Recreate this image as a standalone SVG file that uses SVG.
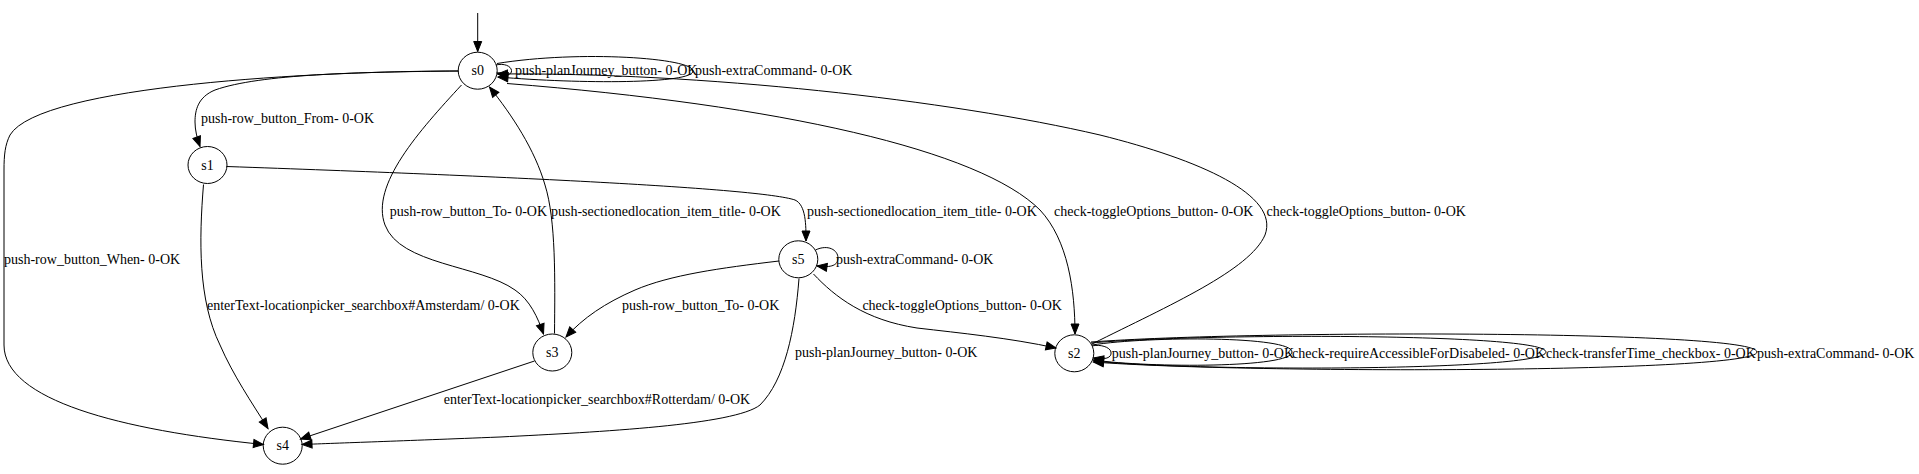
<svg xmlns="http://www.w3.org/2000/svg" width="1919" height="474" viewBox="0 0 1919 474">
<style>
.n ellipse{fill:none;stroke:#000;stroke-width:1}
text{font-family:"Liberation Serif","Times New Roman",serif;font-size:14px;fill:#000}
.n text{text-anchor:middle}
.e path{fill:none;stroke:#000;stroke-width:1;marker-end:url(#ah)}
</style>
<defs>
<marker id="ah" markerUnits="userSpaceOnUse" markerWidth="12" markerHeight="10" refX="10" refY="4" orient="auto" overflow="visible">
<path d="M0,0 L10,4 L0,8 z" fill="#000" stroke="#000" stroke-width="1"/>
</marker>
</defs>
<rect width="1919" height="474" fill="#fff"/>
<g id="edges" class="e">
<path d="M477.7,13 L477.7,51.5"/>
<path d="M496,65 C504,63 511,66 511.5,70.5 C512,75 506,76 497.5,73"/>
<path d="M497,63.5 C580,50 693,58 693,71 C693,84 580,84 498,77"/>
<path d="M458.5,71 C360,72 260,74 215,90 C198,97 195,110 195,122 C195,130 197,138 200,146.5"/>
<path d="M458.5,71 C320,71 40,85 10,135 C5,145 4,155 4,170 L4,345 C4,400 120,430 263.5,444.5"/>
<path d="M461.5,85 C420,130 370,185 385,225 C400,265 480,265 515,290 C530,300 538,318 543.5,334"/>
<path d="M554.5,333.5 C555,280 556,220 545,185 C535,150 512,115 489.5,87"/>
<path d="M203.5,184.5 C199,240 198,300 220,345 C233,375 252,403 268,428.5"/>
<path d="M226.5,166.5 C500,176 760,188 795,200 C806,205 806,225 806,241"/>
<path d="M507,83.5 C780,105 980,150 1040,210 C1068,240 1075,290 1075,334"/>
<path d="M1092,344 C1170,305 1250,270 1265,235 C1280,195 1200,160 1100,135 C950,100 700,72 497.5,74"/>
<path d="M815.5,250 C828,244 838,250 838,258 C838,265 832,268 817,266"/>
<path d="M779,261 C720,268 670,275 635,290 C605,303 583,318 566,337"/>
<path d="M799,278.5 C795,330 785,380 760,405 C735,425 600,432 500,437 C400,441 340,443 302,444.5"/>
<path d="M813.5,274 C835,297 865,320 917,328 C960,333 1010,338 1056,348"/>
<path d="M534.5,361 L300.5,439"/>
<path d="M1092,346 C1100,344 1110,347 1111,352 C1112,358 1105,360 1093.5,358"/>
<path d="M1092,345 C1150,336 1292,336 1292,352 C1292,368 1150,368 1093.5,360"/>
<path d="M1091,343 C1200,333 1546,333 1546,352 C1546,371 1200,372 1093.5,361"/>
<path d="M1091,342 C1250,330 1757,330 1757,352 C1757,373 1250,374 1093.5,362"/>
</g>
<g id="labels">
<text x="515" y="75.2">push-planJourney_button- 0-OK</text>
<text x="695" y="75.2">push-extraCommand- 0-OK</text>
<text x="201" y="122.8">push-row_button_From- 0-OK</text>
<text x="4" y="263.5">push-row_button_When- 0-OK</text>
<text x="389.8" y="216.2">push-row_button_To- 0-OK</text>
<text x="551" y="216.2">push-sectionedlocation_item_title- 0-OK</text>
<text x="807" y="216.2">push-sectionedlocation_item_title- 0-OK</text>
<text x="1054" y="216.2">check-toggleOptions_button- 0-OK</text>
<text x="1266.5" y="216.2">check-toggleOptions_button- 0-OK</text>
<text x="207" y="310.2">enterText-locationpicker_searchbox#Amsterdam/ 0-OK</text>
<text x="836" y="263.8">push-extraCommand- 0-OK</text>
<text x="622" y="310.2">push-row_button_To- 0-OK</text>
<text x="862.4" y="310.2">check-toggleOptions_button- 0-OK</text>
<text x="795" y="356.8">push-planJourney_button- 0-OK</text>
<text x="443.7" y="403.5">enterText-locationpicker_searchbox#Rotterdam/ 0-OK</text>
<text x="1111.7" y="357.8">push-planJourney_button- 0-OK</text>
<text x="1292" y="357.8">check-requireAccessibleForDisabeled- 0-OK</text>
<text x="1546" y="357.8">check-transferTime_checkbox- 0-OK</text>
<text x="1757" y="357.8">push-extraCommand- 0-OK</text>
</g>
<g id="s0" class="n"><ellipse cx="477.7" cy="70.7" rx="19.5" ry="18.5"/><text x="477.7" y="75.2">s0</text></g>
<g id="s1" class="n"><ellipse cx="207.5" cy="165" rx="19.5" ry="18.5"/><text x="207.5" y="169.5">s1</text></g>
<g id="s2" class="n"><ellipse cx="1074.3" cy="353.3" rx="19.5" ry="18.5"/><text x="1074.3" y="357.8">s2</text></g>
<g id="s3" class="n"><ellipse cx="552.3" cy="352.5" rx="19.5" ry="18.5"/><text x="552.3" y="357">s3</text></g>
<g id="s4" class="n"><ellipse cx="282.7" cy="445.7" rx="19.5" ry="18.5"/><text x="282.7" y="450.2">s4</text></g>
<g id="s5" class="n"><ellipse cx="798.3" cy="259.3" rx="19.5" ry="18.5"/><text x="798.3" y="263.8">s5</text></g>
</svg>
